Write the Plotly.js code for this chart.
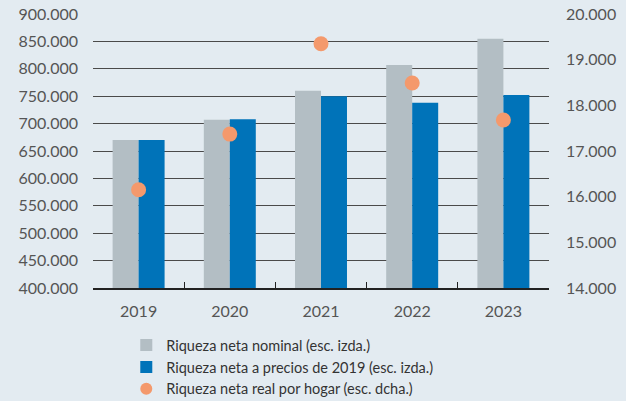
<!DOCTYPE html>
<html>
<head>
<meta charset="utf-8">
<script src="https://cdn.plot.ly/plotly-3.0.1.min.js"></script>
<style>html,body{margin:0;padding:0;background:#e3ebf1;}#chart{width:626px;height:401px;}</style>
</head>
<body>
<div id="chart"></div>
<script>
const years = ["2019", "2020", "2021", "2022", "2023"];
const nominal = [670000, 707000, 760000, 807000, 855000];
const realPrices = [670000, 708000, 750000, 738000, 752000];
const perHousehold = [16150, 17370, 19350, 18490, 17680];
const names = [
  "Riqueza neta nominal (esc. izda.)",
  "Riqueza neta a precios de 2019 (esc. izda.)",
  "Riqueza neta real por hogar (esc. dcha.)"
];
const leftTicks = [400000, 450000, 500000, 550000, 600000, 650000, 700000, 750000, 800000, 850000, 900000];
const rightTicks = [14000, 15000, 16000, 17000, 18000, 19000, 20000];

const traces = [
  {type: "bar", x: years, y: nominal, name: names[0], marker: {color: "#b3bec4"}},
  {type: "bar", x: years, y: realPrices, name: names[1], marker: {color: "#0073b9"}},
  {type: "scatter", mode: "markers", x: years, y: perHousehold, name: names[2], yaxis: "y2",
   marker: {color: "#f4996c", size: 15}}
];

const layout = {
  width: 626, height: 401,
  paper_bgcolor: "#e3ebf1", plot_bgcolor: "#e3ebf1",
  separators: ",.",
  font: {family: "Lato, sans-serif", size: 16, color: "#555"},
  margin: {l: 93, r: 77, t: 14, b: 113, autoexpand: false},
  barmode: "group", bargap: 0.43, bargroupgap: 0,
  showlegend: true,
  legend: {x: 0.073, xanchor: "left", y: -0.15, yanchor: "top", orientation: "v",
           font: {family: "Lato, sans-serif", size: 14.5, color: "#333"}, bgcolor: "rgba(0,0,0,0)", tracegroupgap: 0,
           itemsizing: "constant"},
  xaxis: {type: "category", showline: true, linecolor: "#222", linewidth: 1.5,
          ticks: "inside", tickson: "boundaries", ticklen: 6, tickcolor: "#222",
          showgrid: false, tickfont: {size: 16, color: "#555"}, ticklabelstandoff: 8},
  yaxis: {range: [400000, 900000], tickvals: leftTicks, tickformat: ",",
          showgrid: true, gridcolor: "#4a4a4a", gridwidth: 1, zeroline: false,
          tickfont: {size: 16, color: "#555"}, ticks: "", ticklabelstandoff: 14},
  yaxis2: {range: [14000, 20000], tickvals: rightTicks, tickformat: ",", overlaying: "y", side: "right",
           showgrid: false, zeroline: false, tickfont: {size: 16, color: "#555"}, ticklabelstandoff: 16}
};

Plotly.newPlot("chart", traces, layout, {displayModeBar: false, staticPlot: true});
</script>
</body>
</html>
